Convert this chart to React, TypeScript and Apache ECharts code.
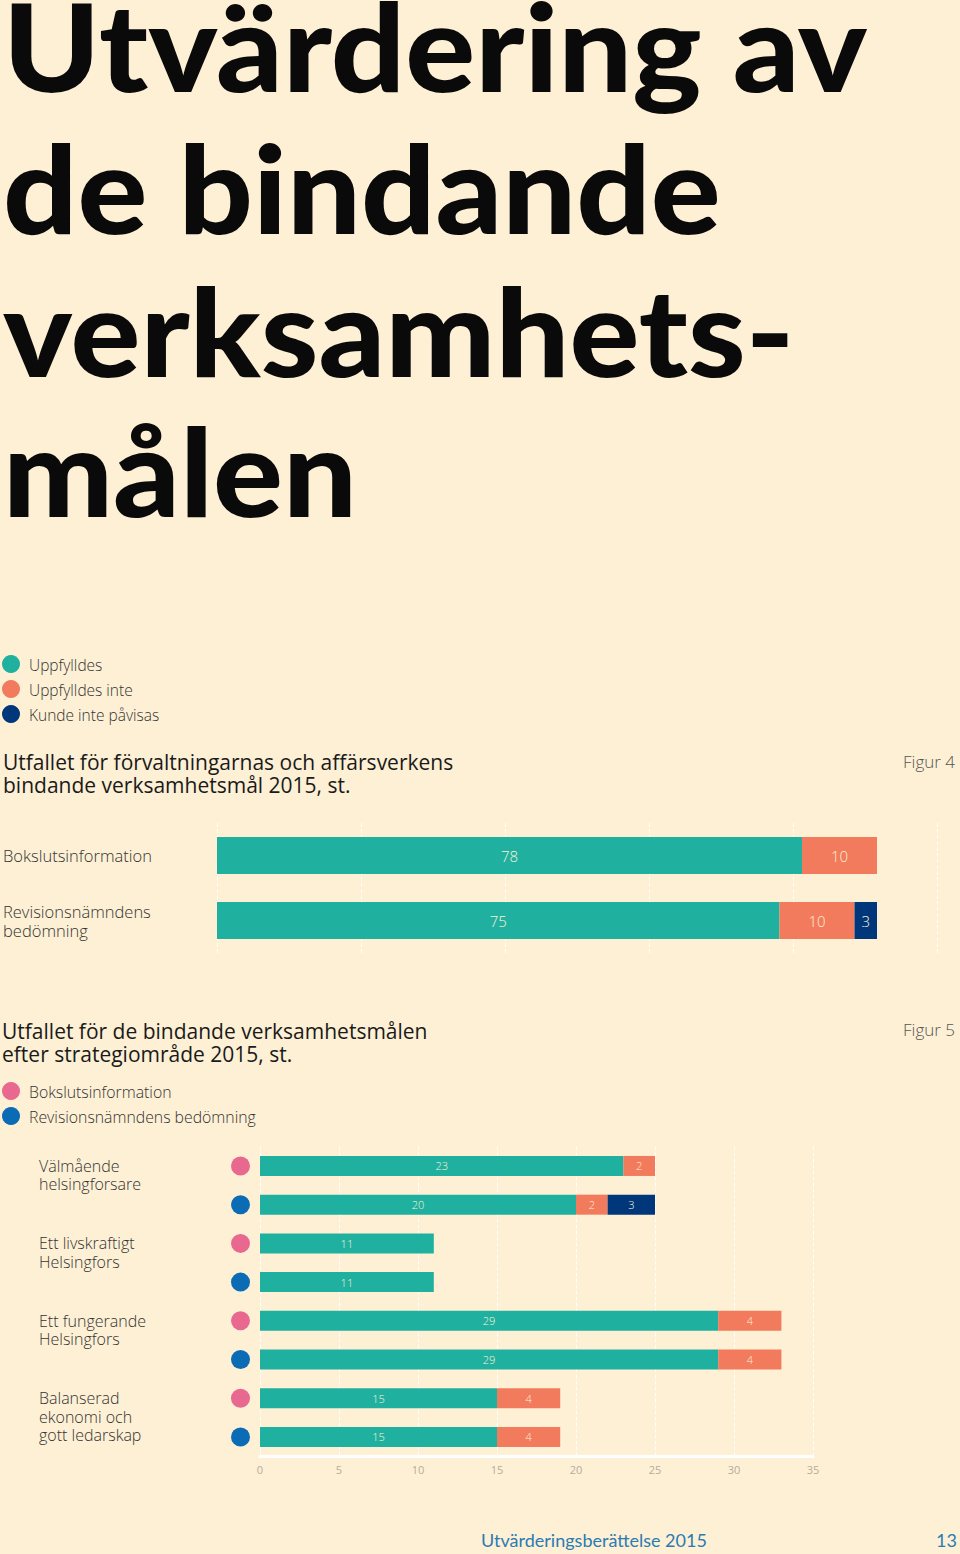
import React, { useEffect, useRef } from 'react';
import * as echarts from 'echarts';

// ---------- data ----------
const titleLines = ['Utvärdering av', 'de bindande', 'verksamhets-', 'målen'];
const legend4 = ['Uppfylldes', 'Uppfylldes inte', 'Kunde inte påvisas'];
const categories4 = ['Bokslutsinformation', 'Revisionsnämndens\nbedömning'];
const uppfylldes4 = [78, 75];
const uppfylldesInte4 = [10, 10];
const kundeInte4: (number | null)[] = [null, 3];

const legend5 = ['Bokslutsinformation', 'Revisionsnämndens bedömning'];
const groups5 = [
  'Välmående\nhelsingforsare',
  'Ett livskraftigt\nHelsingfors',
  'Ett fungerande\nHelsingfors',
  'Balanserad\nekonomi och\ngott ledarskap',
];
const uppfylldes5 = [23, 20, 11, 11, 29, 29, 15, 15];
const uppfylldesInte5: (number | null)[] = [2, 2, null, null, 4, 4, 4, 4];
const kundeInte5: (number | null)[] = [null, 3, null, null, null, null, null, null];
const axis5 = { min: 0, max: 35, interval: 5 };

// ---------- style ----------
const BG = '#fdf0d5';
const TEAL = '#20b09f';
const CORAL = '#f17b5c';
const NAVY = '#00377a';
const PINK = '#e9688f';
const BLUE = '#0b6bb5';
const TEXT = '#333333';
const LABEL = '#fdf0d5';
const FONT = 'Open Sans';
const TFONT = 'Lato';

export default function App() {
  const ref = useRef<HTMLDivElement>(null);
  useEffect(() => {
    document.body.style.margin = '0';
    document.body.style.background = BG;
    const chart = echarts.init(ref.current!, null, { renderer: 'svg' });

    const categories5: string[] = [];
    groups5.forEach((g, gi) => legend5.forEach((s) => categories5.push(`${gi}|${s}`)));

    const barLabel = (size: number) => ({
      show: true,
      position: 'inside',
      color: LABEL,
      fontSize: size,
      fontFamily: FONT,
      fontWeight: 300,
      formatter: (p: any) => (p.value == null ? '' : String(p.value)),
    });

    const colors = [TEAL, CORAL, NAVY];
    const data4 = [uppfylldes4, uppfylldesInte4, kundeInte4];
    const data5 = [uppfylldes5, uppfylldesInte5, kundeInte5];

    const series: any[] = [];
    legend4.forEach((name, i) => {
      series.push({
        type: 'bar', name, stack: 'f4', xAxisIndex: 0, yAxisIndex: 0,
        barWidth: 37, data: data4[i], itemStyle: { color: colors[i] },
        label: barLabel(15), silent: true,
      });
    });
    legend4.forEach((name, i) => {
      series.push({
        type: 'bar', name, stack: 'f5', xAxisIndex: 1, yAxisIndex: 1,
        barWidth: 20, data: data5[i], itemStyle: { color: colors[i] },
        label: barLabel(11), silent: true,
      });
    });

    const graphic: any[] = [];
    const titleMids = [45, 187, 330, 470];
    titleLines.forEach((t, i) => {
      graphic.push({
        type: 'text', x: 3, y: titleMids[i], scaleX: 1.07,
        style: { text: t, fill: '#0a0a0a', font: `900 122px ${TFONT}`, verticalAlign: 'middle' },
      });
    });
    const legendColors4 = [TEAL, CORAL, NAVY];
    legend4.forEach((t, i) => {
      graphic.push({ type: 'circle', shape: { cx: 11, cy: 664 + i * 25, r: 9 }, style: { fill: legendColors4[i] } });
      graphic.push({ type: 'text', x: 29, y: 665 + i * 25, style: { text: t, fill: TEXT, font: `300 15.5px ${FONT}`, verticalAlign: 'middle' } });
    });
    [PINK, BLUE].forEach((c, i) => {
      graphic.push({ type: 'circle', shape: { cx: 11, cy: 1091 + i * 25, r: 9 }, style: { fill: c } });
      graphic.push({ type: 'text', x: 29, y: 1092 + i * 25, style: { text: legend5[i], fill: TEXT, font: `300 15.8px ${FONT}`, verticalAlign: 'middle' } });
    });
    graphic.push({
      type: 'text', x: 3, y: 773,
      style: { text: 'Utfallet för förvaltningarnas och affärsverkens\nbindande verksamhetsmål 2015, st.', fill: '#1a1a1a', font: `400 21px ${FONT}`, lineHeight: 23, verticalAlign: 'middle' },
    });
    graphic.push({ type: 'text', x: 955, y: 761, style: { text: 'Figur 4', fill: '#555', font: `300 17px ${FONT}`, align: 'right', verticalAlign: 'middle' } });
    graphic.push({
      type: 'text', x: 2, y: 1042,
      style: { text: 'Utfallet för de bindande verksamhetsmålen\nefter strategiområde 2015, st.', fill: '#1a1a1a', font: `400 21px ${FONT}`, lineHeight: 23, verticalAlign: 'middle' },
    });
    graphic.push({ type: 'text', x: 955, y: 1029, style: { text: 'Figur 5', fill: '#555', font: `300 17px ${FONT}`, align: 'right', verticalAlign: 'middle' } });
    graphic.push({ type: 'text', x: 481, y: 1540, style: { text: 'Utvärderingsberättelse 2015', fill: '#2b7bb3', font: `400 18px ${TFONT}`, verticalAlign: 'middle' } });
    graphic.push({ type: 'text', x: 957, y: 1540, style: { text: '13', fill: '#2b7bb3', font: `400 18px ${TFONT}`, align: 'right', verticalAlign: 'middle' } });

    const gridLine = { show: true, lineStyle: { color: 'rgba(255,255,255,0.85)', type: 'dashed', width: 1 } };

    chart.setOption({
      animation: false,
      backgroundColor: BG,
      textStyle: { fontFamily: FONT },
      grid: [
        { left: 216, top: 823, width: 721, height: 130, containLabel: false },
        { left: 260, top: 1146.6, width: 553, height: 309.7, containLabel: false },
      ],
      xAxis: [
        {
          type: 'value', gridIndex: 0, min: 0, max: 96, interval: 19.2,
          axisLabel: { show: false }, axisLine: { show: false }, axisTick: { show: false },
          splitLine: gridLine,
        },
        {
          type: 'value', gridIndex: 1, min: axis5.min, max: axis5.max, interval: axis5.interval,
          axisLabel: { color: '#b5ad9f', fontSize: 11, fontFamily: FONT, margin: 8 },
          axisLine: { show: true, lineStyle: { color: '#ffffff', width: 3 } },
          axisTick: { show: false },
          splitLine: gridLine,
        },
      ],
      yAxis: [
        {
          type: 'category', gridIndex: 0, inverse: true, data: categories4, position: 'left',
          axisLine: { show: false }, axisTick: { show: false },
          axisLabel: { align: 'left', margin: 214, color: TEXT, fontSize: 16.5, lineHeight: 19, fontWeight: 300, fontFamily: FONT },
        },
        {
          type: 'category', gridIndex: 1, inverse: true, data: categories5, position: 'left',
          axisLine: { show: false }, axisTick: { show: false },
          axisLabel: {
            interval: 0, align: 'left', margin: 221, color: TEXT, fontSize: 16, lineHeight: 18.5, fontWeight: 300, fontFamily: FONT,
            formatter: (v: string, idx: number) => {
              if (idx % 2 !== 0) return '';
              const g = groups5[Number(v.split('|')[0])];
              const n = g.split('\n').length;
              return '\n'.repeat(n - 1) + g;
            },
          },
        },
        {
          type: 'category', gridIndex: 1, inverse: true, data: categories5, position: 'left', offset: 0,
          axisLine: { show: false }, axisTick: { show: false },
          axisLabel: {
            interval: 0, align: 'right', margin: 10,
            formatter: (v: string, idx: number) => (idx % 2 === 0 ? '{p| }' : '{b| }'),
            rich: {
              p: { width: 19, height: 19, borderRadius: 10, backgroundColor: PINK },
              b: { width: 19, height: 19, borderRadius: 10, backgroundColor: BLUE },
            },
          },
        },
      ],
      series,
      graphic,
    });
    return () => chart.dispose();
  }, []);
  return <div ref={ref} style={{ width: 960, height: 1554, background: BG }} />;
}
